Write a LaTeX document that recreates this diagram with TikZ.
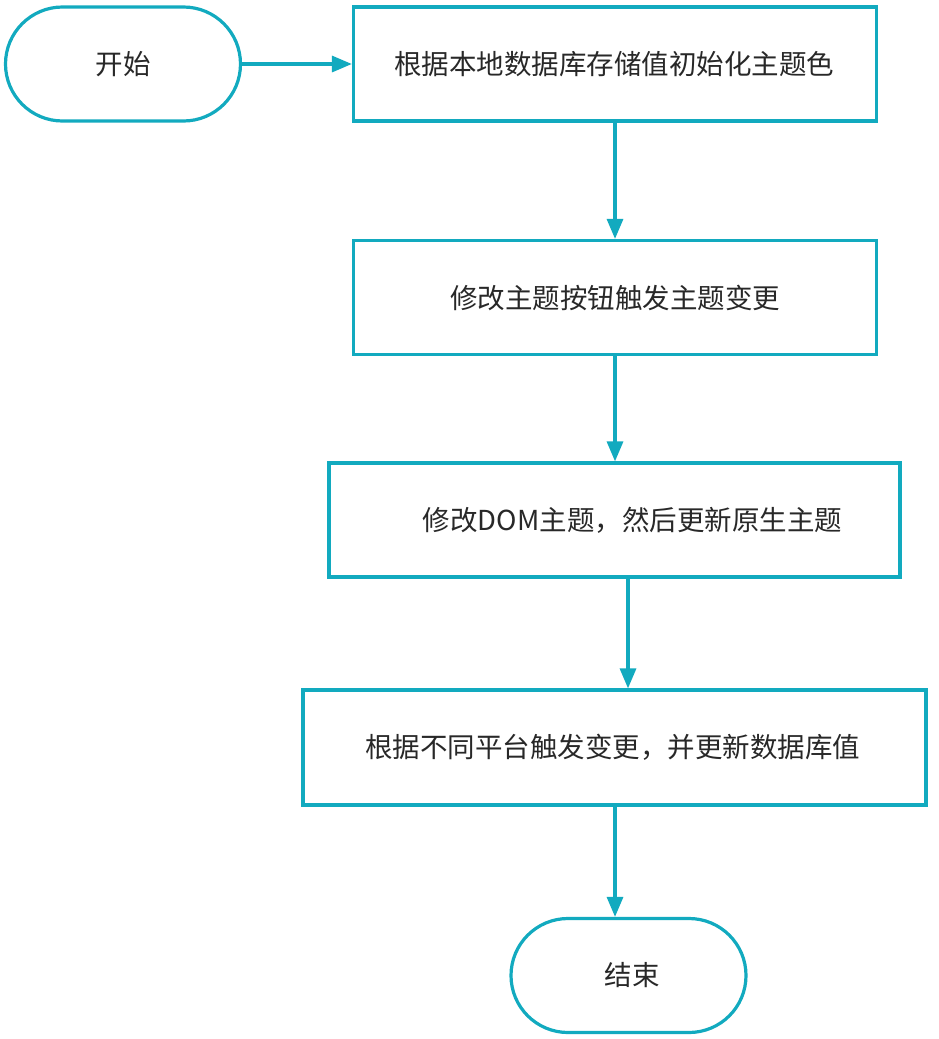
\documentclass[tikz,border=0pt]{standalone}
\usepackage{fontspec}
\setmainfont{Noto Sans CJK SC}
\usetikzlibrary{arrows.meta,shapes.misc}
\definecolor{teal1}{RGB}{18,170,191}
\definecolor{txt}{RGB}{40,40,40}
\begin{document}
\begin{tikzpicture}[x=1pt,y=-1pt,
  flowbox/.style={draw=teal1,line width=3.2pt,fill=white,rectangle,inner sep=0pt},
  term/.style={draw=teal1,line width=3.2pt,fill=white,rounded rectangle,inner sep=0pt,minimum width=235pt,minimum height=114pt},
  lbl/.style={font=\fontsize{27.5}{30}\selectfont,text=txt,inner sep=0pt},
  conn/.style={draw=teal1,line width=3.2pt,-{Triangle[length=20pt,width=16pt]}}]
\useasboundingbox (0,0) rectangle (938,1039);
\node[term] (start) at (123,64) {};
\node[lbl] (startt) at (123,64) {开始};
\node[flowbox,minimum width=523pt,minimum height=114pt] (b1) at (615,64) {};
\node[lbl] at (614,64) {根据本地数据库存储值初始化主题色};
\node[flowbox,minimum width=523pt,minimum height=114pt] (b2) at (615,297.5) {};
\node[lbl] at (615,297.5) {修改主题按钮触发主题变更};
\node[flowbox,minimum width=571pt,minimum height=114pt] (b3) at (614.5,520) {};
\node[lbl] at (632.5,520) {修改DOM主题，然后更新原生主题};
\node[flowbox,minimum width=623pt,minimum height=115pt] (b4) at (614.5,747.5) {};
\node[lbl] at (612.5,747.5) {根据不同平台触发变更，并更新数据库值};
\node[term] (end) at (628.5,975.5) {};
\node[lbl] at (632,975.5) {结束};
\draw[conn] (start.east) -- (b1.west);
\draw[conn] (b1.south -| 615,0) -- (b2.north -| 615,0);
\draw[conn] (b2.south -| 615,0) -- (b3.north -| 615,0);
\draw[conn] (b3.south -| 628,0) -- (b4.north -| 628,0);
\draw[conn] (b4.south -| 615,0) -- (end.north -| 615,0);
\end{tikzpicture}
\end{document}
